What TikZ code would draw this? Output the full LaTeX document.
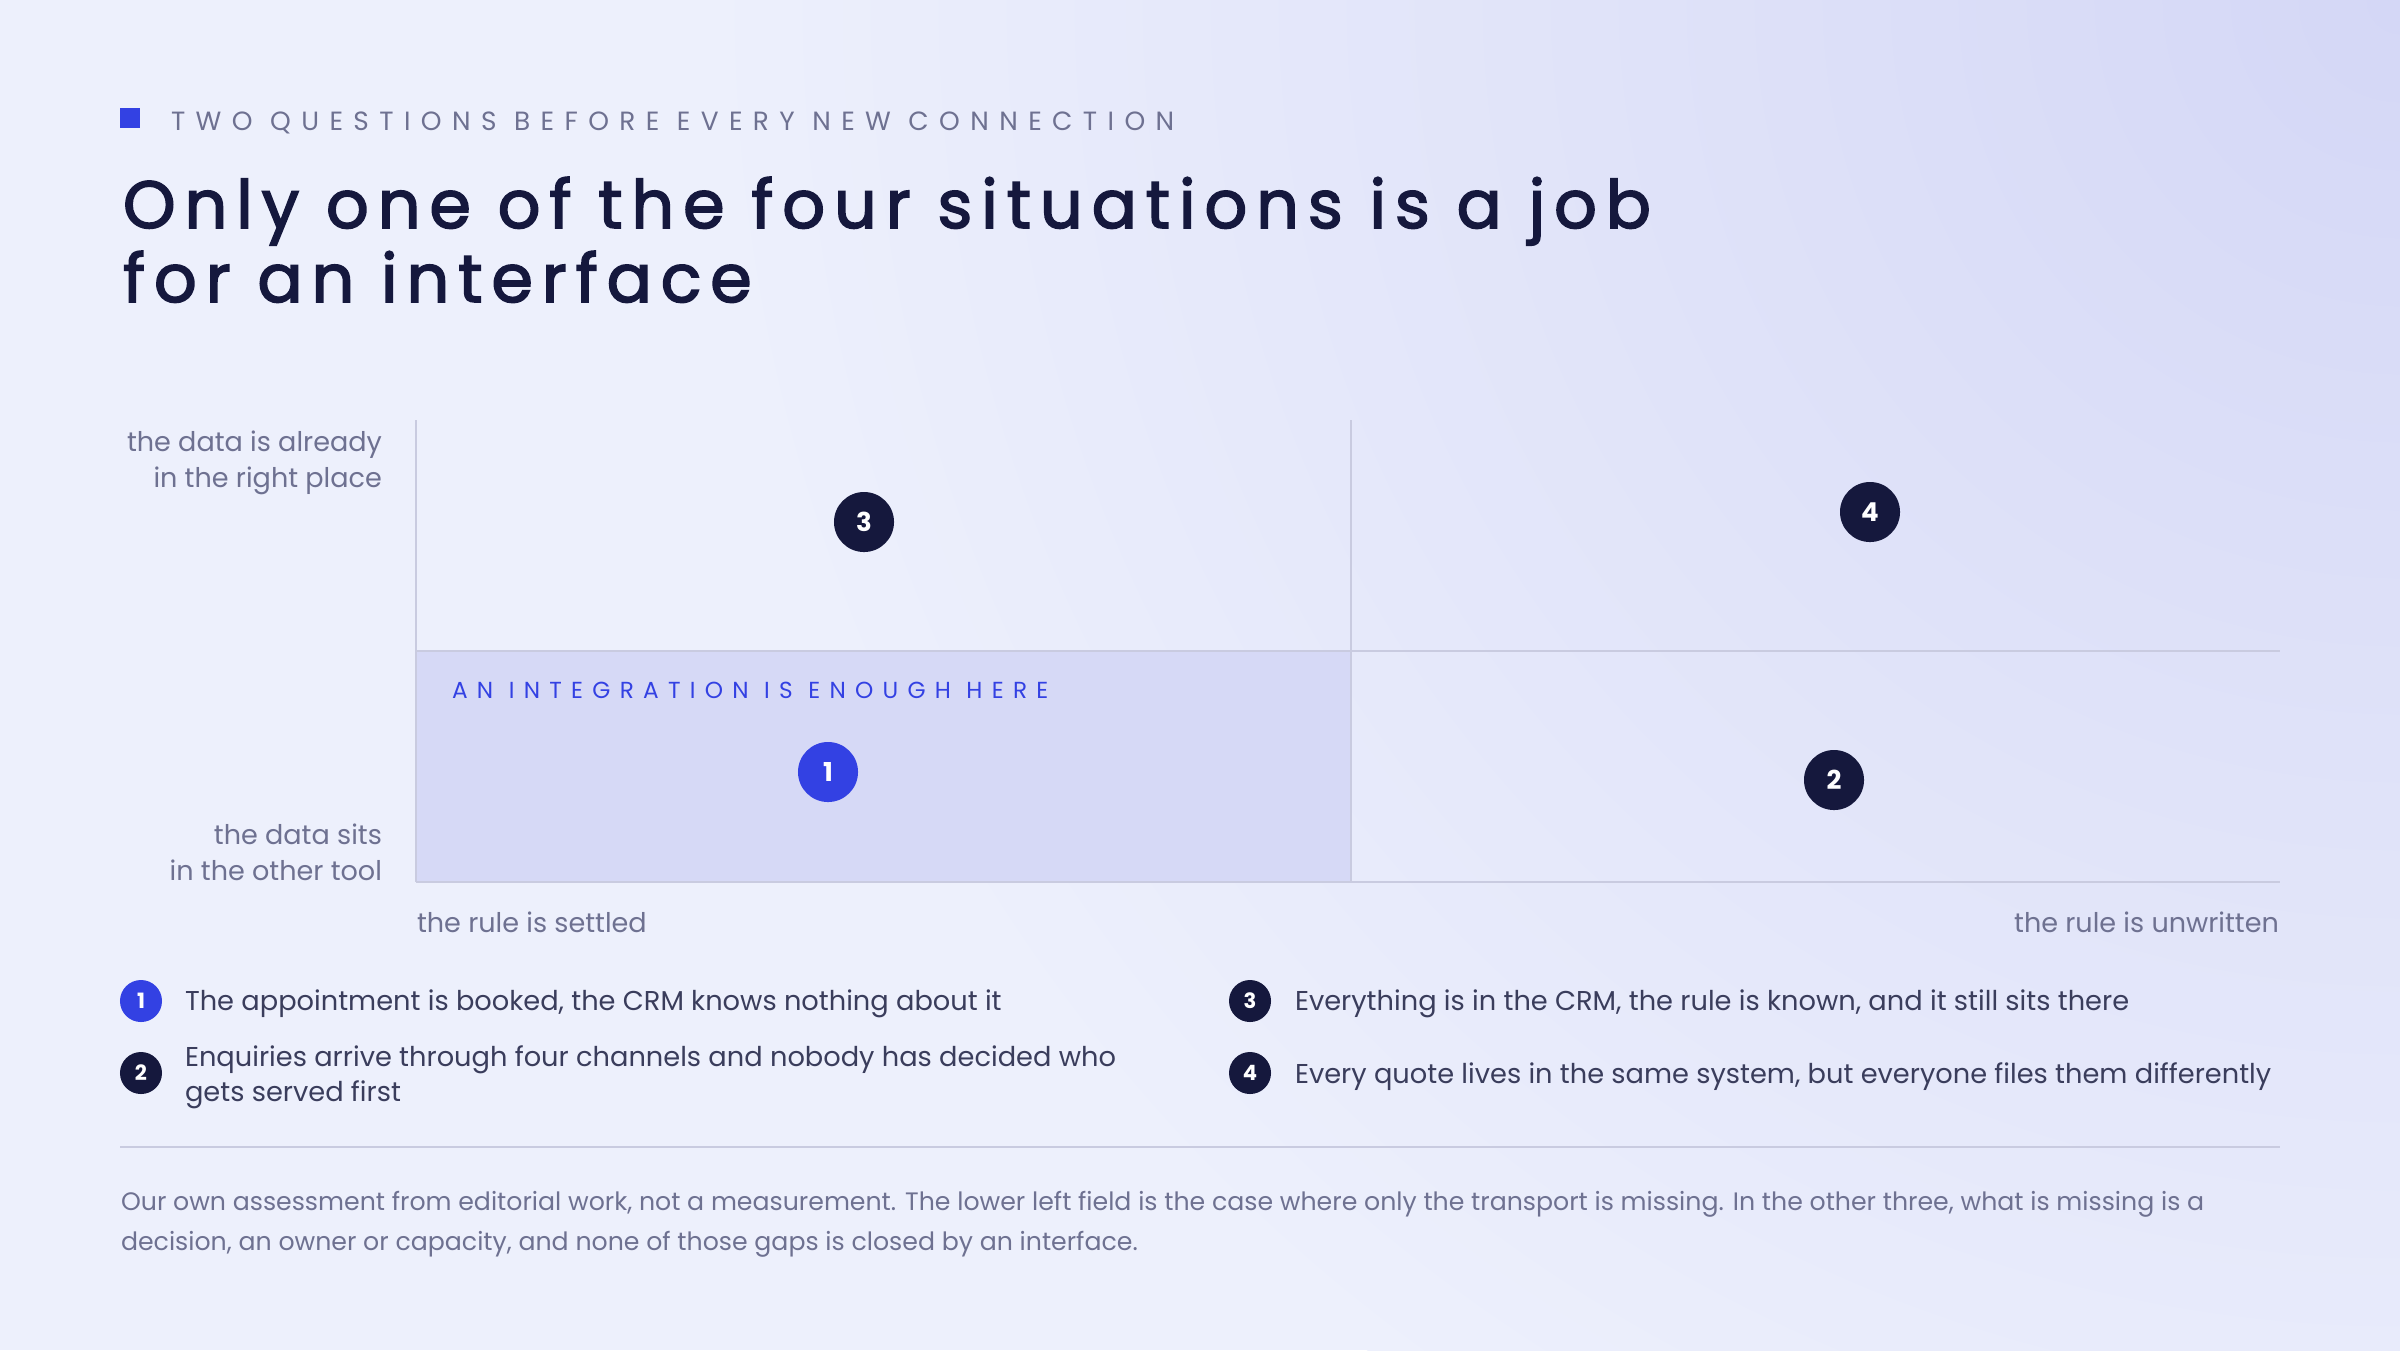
\documentclass[tikz,border=0pt]{standalone}
\usepackage{fontspec}
\setmainfont{Poppins}
\newfontfamily\titlefont{Poppins}[FakeBold=2.4, LetterSpace=13.4]
\newfontfamily\kickerfont{Poppins}[LetterSpace=39.5]
\newfontfamily\tagfont{Poppins}[LetterSpace=40]
\usetikzlibrary{positioning}

\definecolor{navy}{HTML}{15183D}
\definecolor{accent}{HTML}{3341E3}
\definecolor{muted}{HTML}{6E7191}
\definecolor{bodytext}{HTML}{3A3D5C}
\definecolor{gridline}{HTML}{C9CBE0}
\definecolor{bgA}{HTML}{EDF0FC}
\definecolor{bgB}{HTML}{D4D7F6}
\definecolor{field}{HTML}{D6D9F6}

\tikzset{
  marker/.style={circle, fill=navy, text=white, inner sep=0pt, minimum size=0.6cm,
    font=\bfseries\fontsize{7.4}{8}\selectfont},
  keymarker/.style={marker, minimum size=0.42cm, font=\bfseries\fontsize{6}{7}\selectfont},
  axislabel/.style={text=muted, inner sep=0pt, font=\fontsize{7.7}{10.2}\selectfont},
  keytext/.style={text=bodytext, inner sep=0pt, font=\fontsize{7.75}{10}\selectfont},
  note/.style={text=muted, inner sep=0pt, anchor=base west, font=\fontsize{7.17}{11.4}\selectfont}
}

\begin{document}
\begin{tikzpicture}[x=0.01cm, y=-0.01cm, line width=0.6pt]
    % Hintergrund.
    \fill[bgA] (0,0) rectangle (2400,1350);
    \begin{scope}
        \clip (0,0) rectangle (2400,1350);
        \shade[inner color=bgB, outer color=bgA] (2400,0) circle (1700);
    \end{scope}
    \useasboundingbox (0,0) rectangle (2400,1350);

    % Kopf.
    \fill[accent] (120,108) rectangle (140,128);
    \node[anchor=base west, inner sep=0pt, text=muted, font=\kickerfont\fontsize{7.5}{9}\selectfont] (kicker) at (170,130) {TWO QUESTIONS BEFORE EVERY NEW CONNECTION};
    \node[anchor=base west, inner sep=0pt, text=navy, font=\titlefont\fontsize{19}{22}\selectfont] (title1) at (122,228) {Only one of the four situations is a job};
    \node[anchor=base west, inner sep=0pt, text=navy, font=\titlefont\fontsize{19}{22}\selectfont] (title2) at (122,302) {for an interface};

    % Felder.
    \fill[field] (416,651) rectangle (1351,882);
    \foreach \y in {651,882}
    {
        \draw[gridline] (416,\y) -- (2280,\y);
    }
    \foreach \x in {416,1351}
    {
        \draw[gridline] (\x,420) -- (\x,882);
    }
    \node[anchor=base west, inner sep=0pt, text=accent, font=\tagfont\fontsize{6.6}{8}\selectfont] (tag) at (451,698) {AN INTEGRATION IS ENOUGH HERE};

    \node[marker, fill=accent] (m1) at (828,772) {1};
    \node[marker] (m2) at (1834,780) {2};
    \node[marker] (m3) at (864,522) {3};
    \node[marker] (m4) at (1870,512) {4};

    % Beschriftung.
    \node[axislabel, align=right, anchor=east] (ytop) at (383,463) {the data is already\\in the right place};
    \node[axislabel, align=right, anchor=east] (ybot) at (383,852) {the data sits\\in the other tool};
    \node[axislabel, anchor=base west] (xleft) at (416,932) {the rule is settled};
    \node[axislabel, anchor=base east] (xright) at (2280,932) {the rule is unwritten};

    % Legende.
    \node[keymarker, fill=accent] (k1) at (141,1001) {1};
    \node[keymarker] (k2) at (141,1073) {2};
    \node[keymarker] (k3) at (1250,1001) {3};
    \node[keymarker] (k4) at (1250,1073) {4};
    \node[keytext, anchor=base west] (t1) at (184,1010) {The appointment is booked, the CRM knows nothing about it};
    \node[keytext, anchor=west, align=left] (t2) at (184,1077) {Enquiries arrive through four channels and nobody has decided who\\gets served first};
    \node[keytext, anchor=base west] (t3) at (1294,1010) {Everything is in the CRM, the rule is known, and it still sits there};
    \node[keytext, anchor=base west] (t4) at (1294,1083) {Every quote lives in the same system, but everyone files them differently};

    \draw[gridline] (120,1147) -- (2280,1147);

    % Fussnote.
    \node[note] (note1) at (120,1210) {Our own assessment from editorial work, not a measurement. The lower left field is the case where only the transport is missing. In the other three, what is missing is a};
    \node[note] (note2) at (120,1250) {decision, an owner or capacity, and none of those gaps is closed by an interface.};
\end{tikzpicture}
\end{document}
